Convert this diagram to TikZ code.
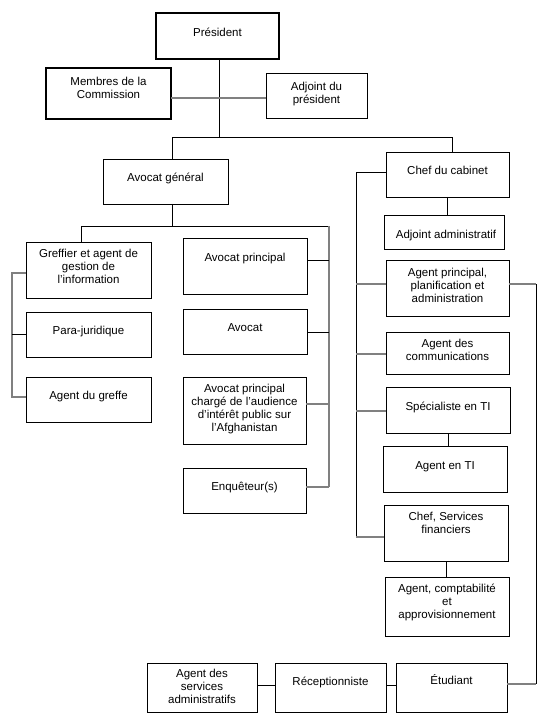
\documentclass[tikz,border=0pt]{standalone}
\usepackage{fontspec}
\setmainfont{Liberation Sans}
\usetikzlibrary{fit}
\newcommand\mystrut{\rule{0pt}{11pt}}
\begin{document}
\begin{tikzpicture}[x=1pt,y=-1pt,
  bx/.style={draw=black, line width=0.9pt, inner sep=0pt, outer sep=0pt},
  thk/.style={draw=black, line width=2.6pt, inner sep=0pt, outer sep=0pt},
  txt/.style={anchor=north, align=center, inner sep=0pt, font=\fontsize{11.5}{12.8}\selectfont},
  ln/.style={draw=black, line width=0.9pt},
  gln/.style={draw=black!50, line width=1.6pt}]
\fill[white] (0,0) rectangle (547,719);
\useasboundingbox (0,0) rectangle (547,719);

% boxes
\node[thk, fit={(156,13)(279,59)}] (pres) {};
\node[txt] (presT) at ([yshift=-12.5pt]pres.north) {\mystrut Président};
\node[thk, fit={(46,68)(171,119)}] (memb) {};
\node[txt] (membT) at ([yshift=-6.5pt]memb.north) {\mystrut Membres de la\\Commission};
\node[bx, fit={(266,73)(367,118)}] (adjp) {};
\node[txt] (adjpT) at ([yshift=-6.5pt]adjp.north) {\mystrut Adjoint du\\président};

\node[bx, fit={(103,159)(228,204)}] (avg) {};
\node[txt] (avgT) at ([yshift=-11.5pt]avg.north) {\mystrut Avocat général};

\node[bx, fit={(26,242)(151,298)}] (greff) {};
\node[txt] (greffT) at ([yshift=-4.5pt]greff.north) {\mystrut Greffier et agent de\\gestion de\\l’information};
\node[bx, fit={(26,312)(151,357)}] (para) {};
\node[txt] (paraT) at ([yshift=-11.5pt]para.north) {\mystrut Para-juridique};
\node[bx, fit={(26,377)(151,422)}] (agref) {};
\node[txt] (agrefT) at ([yshift=-11.5pt]agref.north) {\mystrut Agent du greffe};

\node[bx, fit={(183,238)(307,294)}] (avp) {};
\node[txt] (avpT) at ([yshift=-12.5pt]avp.north) {\mystrut Avocat principal};
\node[bx, fit={(183,309)(307,354)}] (avo) {};
\node[txt] (avoT) at ([yshift=-11.5pt]avo.north) {\mystrut Avocat};
\node[bx, fit={(183,377)(306,444)}] (apc) {};
\node[txt] (apcT) at ([yshift=-4.5pt]apc.north) {\mystrut Avocat principal\\chargé de l’audience\\d’intérêt public sur\\l’Afghanistan};
\node[bx, fit={(183,468)(306,513)}] (enq) {};
\node[txt] (enqT) at ([yshift=-11.5pt]enq.north) {\mystrut Enquêteur(s)};

\node[bx, fit={(386,152)(509,197)}] (chef) {};
\node[txt] (chefT) at ([yshift=-11.5pt]chef.north) {\mystrut Chef du cabinet};
\node[bx, fit={(384,215)(504,249)}] (adja) {};
\node[txt] (adjaT) at ([yshift=-12.5pt,xshift=2pt]adja.north) {\mystrut Adjoint administratif};
\node[bx, fit={(386,260)(509,316)}] (apl) {};
\node[txt] (aplT) at ([yshift=-5.5pt]apl.north) {\mystrut Agent principal,\\planification et\\administration};
\node[bx, fit={(386,332)(509,374)}] (acom) {};
\node[txt] (acomT) at ([yshift=-4.5pt]acom.north) {\mystrut Agent des\\communications};
\node[bx, fit={(386,387)(510,433)}] (spec) {};
\node[txt] (specT) at ([yshift=-12.5pt]spec.north) {\mystrut Spécialiste en TI};
\node[bx, fit={(383,446)(507,492)}] (ati) {};
\node[txt] (atiT) at ([yshift=-12.5pt]ati.north) {\mystrut Agent en TI};
\node[bx, fit={(384,505)(508,561)}] (csf) {};
\node[txt] (csfT) at ([yshift=-4.5pt]csf.north) {\mystrut Chef, Services\\financiers};
\node[bx, fit={(385,577)(509,636)}] (acpt) {};
\node[txt] (acptT) at ([yshift=-4.5pt]acpt.north) {\mystrut Agent, comptabilité\\et\\approvisionnement};

\node[bx, fit={(147,663)(257,712)}] (asa) {};
\node[txt] (asaT) at ([yshift=-3.5pt]asa.north) {\mystrut Agent des\\services\\administratifs};
\node[bx, fit={(275,663)(386,712)}] (rec) {};
\node[txt] (recT) at ([yshift=-11.5pt]rec.north) {\mystrut Réceptionniste};
\node[bx, fit={(396,663)(507,712)}] (etu) {};
\node[txt] (etuT) at ([yshift=-10.5pt]etu.north) {\mystrut Étudiant};

% connectors
\coordinate (jt) at (219,137);
\coordinate (jl) at (172,137);
\coordinate (jr) at (452,137);
\draw[ln] (pres.south -| jt) -- (jt);
\draw[ln] (avg.north -| jl) -- (jl) -- (jr) -- (chef.north -| jr);
\coordinate (jm) at (219,98);
\draw[gln] (memb.east |- jm) -- (adjp.west |- jm);

\coordinate (ga) at (172,226);
\coordinate (gl) at (81,226);
\coordinate (gr) at (329,226);
\draw[ln] (avg.south -| ga) -- (ga);
\draw[ln] (greff.north -| gl) -- (gl) -- (gr);
\coordinate (r1) at (329,260);
\coordinate (r2) at (329,332);
\coordinate (r3) at (329,404);
\coordinate (r4) at (329,487);
\draw[gln] (gr) -- (r4);
\draw[ln] (avp.east |- r1) -- (r1);
\draw[ln] (avo.east |- r2) -- (r2);
\draw[gln] (apc.east |- r3) -- (r3);
\draw[gln] (enq.east |- r4) -- (r4);

\coordinate (l1) at (12,273);
\coordinate (l2) at (12,334);
\coordinate (l3) at (12,397);
\draw[gln] (greff.west |- l1) -- (l1) -- (l3) -- (agref.west |- l3);
\draw[ln] (para.west |- l2) -- (l2);

\coordinate (c1) at (356,172);
\coordinate (c2) at (356,284);
\coordinate (c3) at (356,354);
\coordinate (c4) at (356,411);
\coordinate (c5) at (356,537);
\draw[ln] (chef.west |- c1) -- (c1) -- (c5);
\draw[gln] (apl.west |- c2) -- (c2);
\draw[gln] (acom.west |- c3) -- (c3);
\draw[gln] (spec.west |- c4) -- (c4);
\draw[gln] (csf.west |- c5) -- (c5);

\coordinate (e1) at (536,284);
\coordinate (e2) at (536,684);
\draw[ln] (e1) -- (e2);
\draw[gln] (apl.east |- e1) -- (e1);
\draw[gln] (etu.east |- e2) -- (e2);

\draw[ln] (chef.south) -- (chef.south |- adja.north);
\draw[ln] (spec.south) -- (spec.south |- ati.north);
\draw[ln] (csf.south) -- (csf.south |- acpt.north);

\coordinate (yb) at (0,685);
\draw[ln] (asa.east |- yb) -- (rec.west |- yb);
\draw[ln] (rec.east |- yb) -- (etu.west |- yb);
\end{tikzpicture}
\end{document}
